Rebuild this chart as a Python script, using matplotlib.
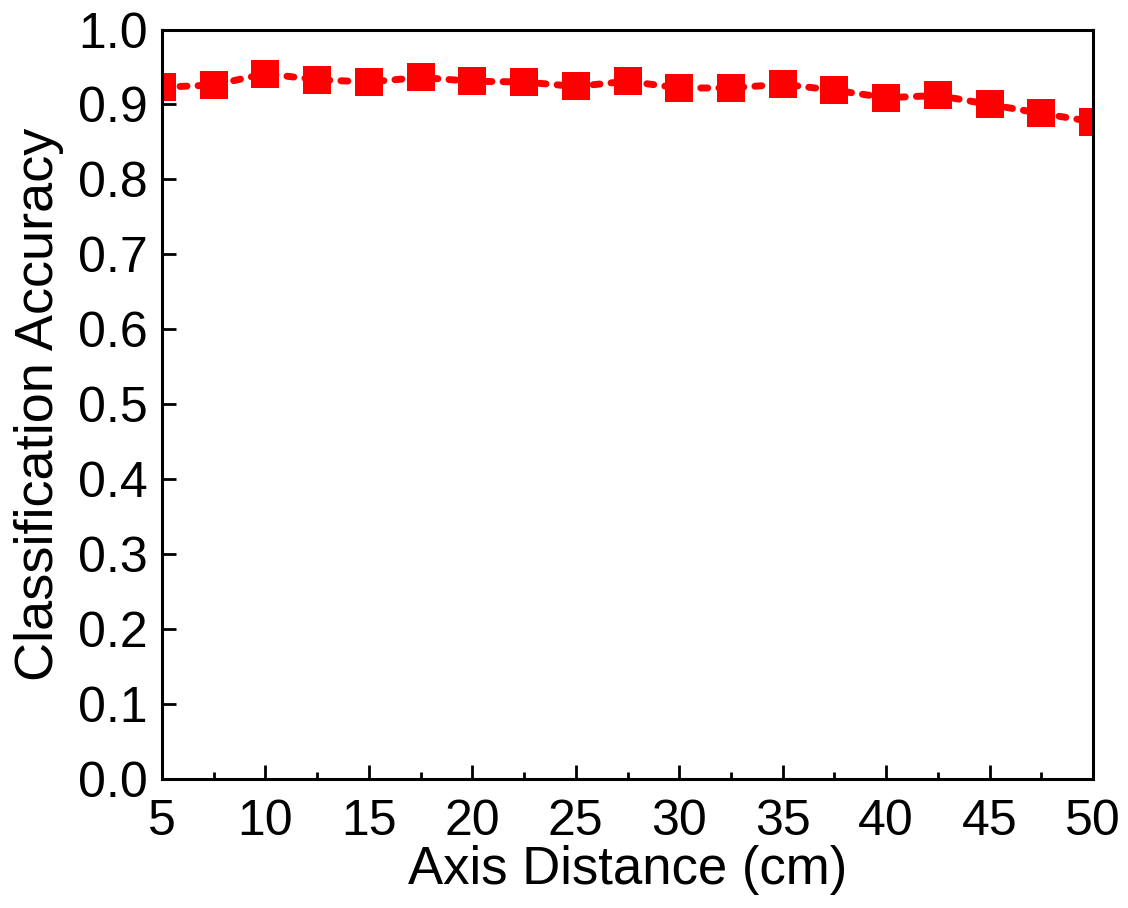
import matplotlib
import matplotlib.pyplot as plt
from matplotlib.ticker import MultipleLocator

matplotlib.use('Agg')

plt.rcParams['font.family'] = ['Liberation Sans', 'DejaVu Sans']

# Data
distance = [5, 7.5, 10, 12.5, 15, 17.5, 20, 22.5, 25, 27.5,
            30, 32.5, 35, 37.5, 40, 42.5, 45, 47.5, 50]
accuracy = [0.923, 0.926, 0.941, 0.933, 0.930, 0.936, 0.931, 0.930, 0.924, 0.931,
            0.922, 0.922, 0.927, 0.919, 0.909, 0.912, 0.900, 0.888, 0.877]

fig = plt.figure(figsize=(11.28, 9.08), dpi=100)
ax = fig.add_axes([0.1436, 0.142, 0.8254, 0.8255])

ax.plot(distance, accuracy, color='red', linestyle=(0, (1.0, 1.6)), linewidth=5,
        dash_capstyle='round', marker='s', markersize=20, markeredgewidth=0)

ax.set_xlim(5, 50)
ax.set_ylim(0, 1.0)
ax.xaxis.set_major_locator(MultipleLocator(5))
ax.xaxis.set_minor_locator(MultipleLocator(2.5))
ax.yaxis.set_major_locator(MultipleLocator(0.1))
ax.yaxis.set_major_formatter(matplotlib.ticker.FormatStrFormatter('%.1f'))

ax.tick_params(which='both', direction='in', width=2, labelsize=36)
ax.tick_params(which='major', length=10)
ax.tick_params(which='minor', length=5)
ax.tick_params(axis='x', pad=14)
ax.tick_params(axis='y', pad=10)
for s in ax.spines.values():
    s.set_linewidth(2.2)

ax.set_xlabel('Axis Distance (cm)', fontsize=38, labelpad=0)
ax.set_ylabel('Classification Accuracy', fontsize=39, labelpad=10)

fig.savefig('out.png', dpi=100)
